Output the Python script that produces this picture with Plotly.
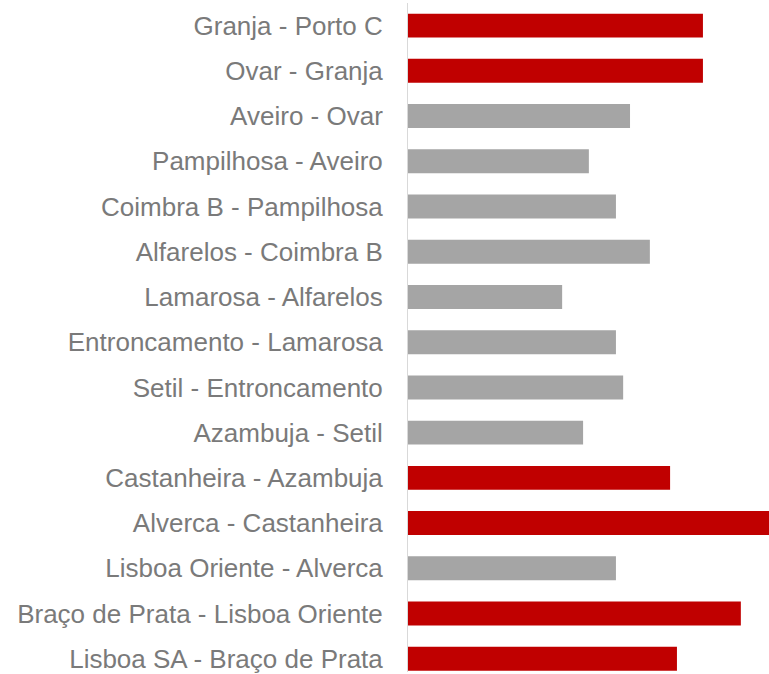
import plotly.graph_objects as go

segments = [
    "Granja - Porto C",
    "Ovar - Granja",
    "Aveiro - Ovar",
    "Pampilhosa - Aveiro",
    "Coimbra B - Pampilhosa",
    "Alfarelos - Coimbra B",
    "Lamarosa - Alfarelos",
    "Entroncamento - Lamarosa",
    "Setil - Entroncamento",
    "Azambuja - Setil",
    "Castanheira - Azambuja",
    "Alverca - Castanheira",
    "Lisboa Oriente - Alverca",
    "Braço de Prata - Lisboa Oriente",
    "Lisboa SA - Braço de Prata",
]
values = [81.7, 81.7, 61.5, 50.1, 57.6, 67.0, 42.7, 57.6, 59.6, 48.5, 72.6, 100.0, 57.6, 92.2, 74.5]
highlight = [True, True, False, False, False, False, False, False, False, False, True, True, False, True, True]

RED = "#C00000"
GRAY = "#A5A5A5"
colors = [RED if h else GRAY for h in highlight]

fig = go.Figure(go.Bar(
    x=values,
    y=segments,
    orientation="h",
    marker=dict(color=colors, line=dict(width=0)),
    hoverinfo="x+y",
))

band_px = 45.36
plot_h = 671
fig.update_layout(
    width=769,
    height=674,
    margin=dict(l=408, r=0, t=3, b=0),
    paper_bgcolor="white",
    plot_bgcolor="white",
    bargap=0.47,
    showlegend=False,
    font=dict(family="Liberation Sans, Arial, sans-serif", size=26, color="#7A7A7A"),
    xaxis=dict(range=[0, 100], visible=False, showgrid=False, zeroline=False),
    yaxis=dict(
        type="category",
        categoryorder="array",
        categoryarray=segments,
        range=[-0.5 + plot_h / band_px, -0.5],
        showgrid=False,
        zeroline=False,
        showline=True,
        linecolor="#D9D9D9",
        linewidth=1,
        ticks="",
        ticklabelstandoff=19,
        tickfont=dict(size=26, color="#7A7A7A"),
    ),
)

fig.write_html(
    "out.html",
    config={"displayModeBar": False},
    post_script="document.body.style.margin='0';document.body.style.overflow='hidden';",
)
